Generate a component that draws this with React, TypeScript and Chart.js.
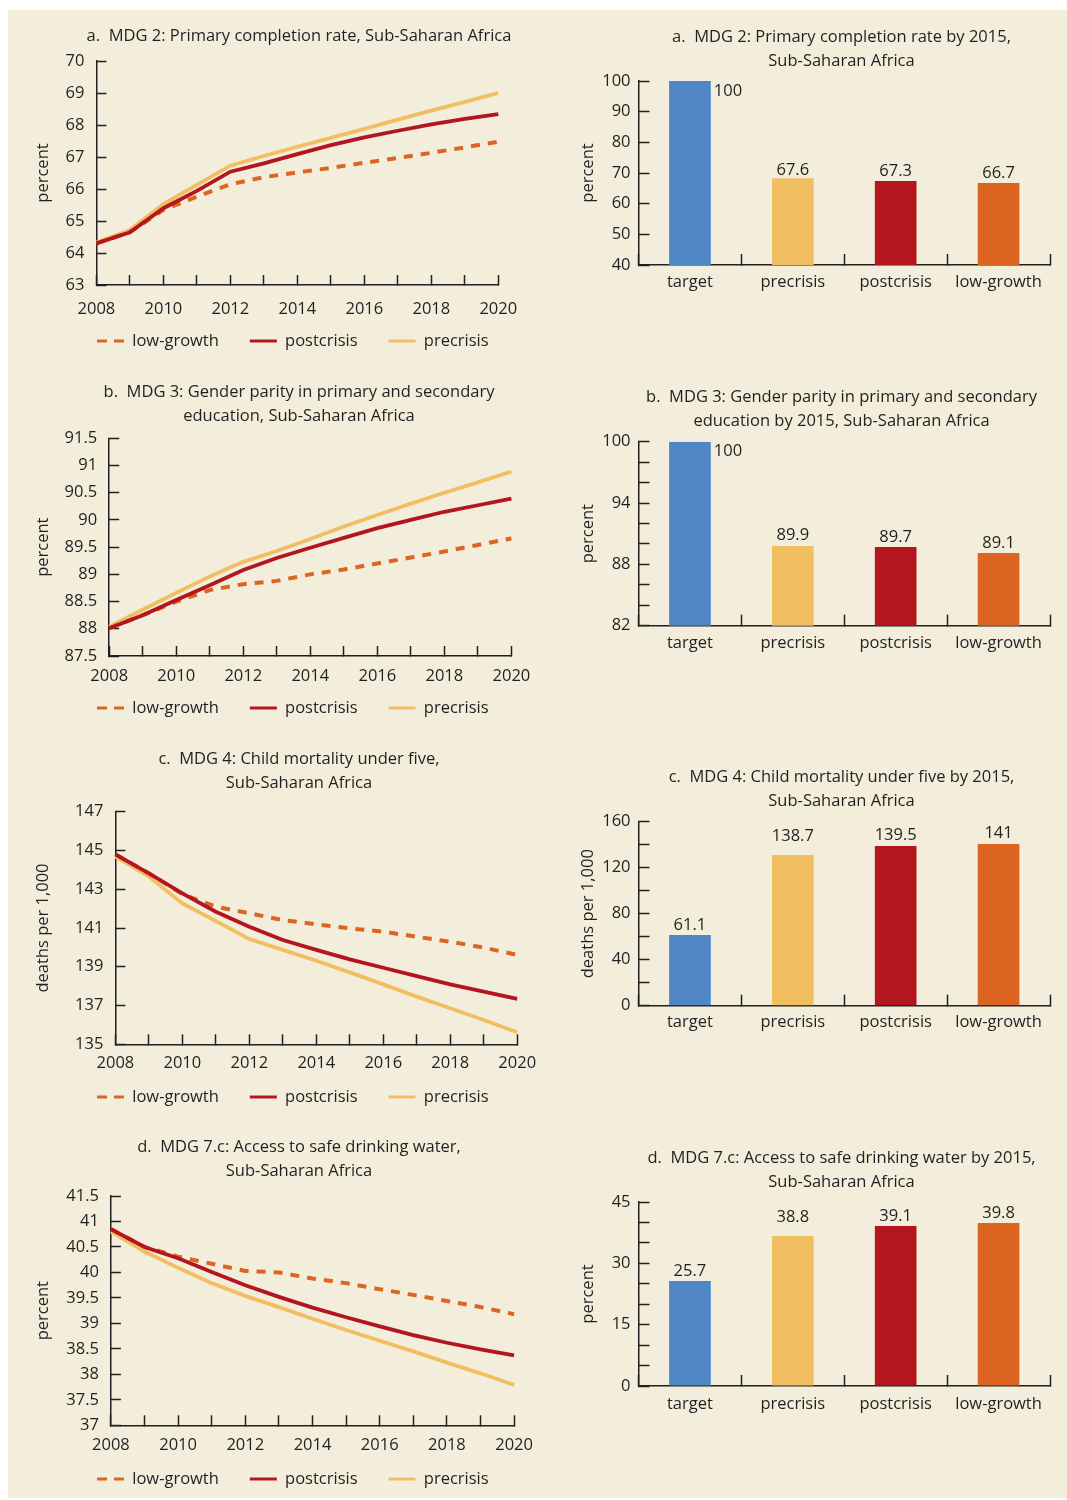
import React, { useEffect, useRef } from 'react';
import { Chart, registerables } from 'chart.js';

Chart.register(...registerables);

// ---------------- data ----------------
const YEARS = ['2008', '2009', '2010', '2011', '2012', '2013', '2014', '2015', '2016', '2017', '2018', '2019', '2020'];
const YEAR_TICK_LABELS = ['2008', '2010', '2012', '2014', '2016', '2018', '2020'];
const SCENARIOS = ['target', 'precrisis', 'postcrisis', 'low-growth'];
const SERIES = ['low-growth', 'postcrisis', 'precrisis'];

// a. MDG 2: primary completion rate (percent)
const MDG2_LOW = [64.3, 64.65, 65.35, 65.76, 66.15, 66.37, 66.52, 66.66, 66.82, 66.97, 67.13, 67.3, 67.48];
const MDG2_POST = [64.3, 64.65, 65.4, 65.94, 66.54, 66.8, 67.09, 67.37, 67.61, 67.82, 68.02, 68.19, 68.34];
const MDG2_PRE = [64.33, 64.72, 65.53, 66.13, 66.73, 67.03, 67.32, 67.6, 67.88, 68.17, 68.45, 68.72, 69.0];
const MDG2_LINE_TICKS = [63, 64, 65, 66, 67, 68, 69, 70];
const MDG2_BAR_HEIGHTS = [100, 68.3, 67.4, 66.7];
const MDG2_BAR_LABELS = [100, 67.6, 67.3, 66.7];
const MDG2_BAR_TICKS = [40, 50, 60, 70, 80, 90, 100];
const MDG2_BAR_TICK_LABELS = [40, 50, 60, 70, 80, 90, 100];

// b. MDG 3: gender parity (percent)
const MDG3_LOW = [88.01, 88.25, 88.5, 88.71, 88.82, 88.88, 89.0, 89.09, 89.2, 89.31, 89.42, 89.54, 89.66];
const MDG3_POST = [88.01, 88.25, 88.53, 88.8, 89.08, 89.3, 89.49, 89.67, 89.85, 90.0, 90.15, 90.27, 90.39];
const MDG3_PRE = [88.04, 88.35, 88.66, 88.96, 89.23, 89.43, 89.65, 89.88, 90.09, 90.3, 90.5, 90.69, 90.89];
const MDG3_LINE_TICKS = [87.5, 88, 88.5, 89, 89.5, 90, 90.5, 91, 91.5];
const MDG3_BAR_HEIGHTS = [100, 89.8, 89.7, 89.1];
const MDG3_BAR_LABELS = [100, 89.9, 89.7, 89.1];
const MDG3_BAR_TICKS = [82, 84, 86, 88, 90, 92, 94, 96, 98, 100];
const MDG3_BAR_TICK_LABELS = [82, 88, 94, 100];

// c. MDG 4: child mortality under five (deaths per 1,000)
const MDG4_LOW = [144.8, 143.82, 142.75, 142.1, 141.76, 141.41, 141.19, 140.98, 140.81, 140.55, 140.29, 139.99, 139.61];
const MDG4_POST = [144.8, 143.82, 142.79, 141.84, 141.07, 140.38, 139.87, 139.38, 138.95, 138.52, 138.09, 137.72, 137.34];
const MDG4_PRE = [144.68, 143.65, 142.27, 141.36, 140.43, 139.87, 139.31, 138.71, 138.09, 137.46, 136.86, 136.25, 135.62];
const MDG4_LINE_TICKS = [135, 137, 139, 141, 143, 145, 147];
const MDG4_BAR_HEIGHTS = [61.4, 131.0, 138.8, 140.6];
const MDG4_BAR_LABELS = [61.1, 138.7, 139.5, 141];
const MDG4_BAR_TICKS = [0, 20, 40, 60, 80, 100, 120, 140, 160];
const MDG4_BAR_TICK_LABELS = [0, 40, 80, 120, 160];

// d. MDG 7.c: access to safe drinking water (percent)
const MDG7_LOW = [40.85, 40.5, 40.31, 40.17, 40.03, 40.0, 39.88, 39.79, 39.67, 39.56, 39.44, 39.32, 39.18];
const MDG7_POST = [40.85, 40.5, 40.28, 40.01, 39.75, 39.52, 39.31, 39.12, 38.94, 38.77, 38.62, 38.49, 38.37];
const MDG7_PRE = [40.8, 40.41, 40.09, 39.79, 39.54, 39.32, 39.09, 38.87, 38.66, 38.45, 38.23, 38.02, 37.79];
const MDG7_LINE_TICKS = [37, 37.5, 38, 38.5, 39, 39.5, 40, 40.5, 41, 41.5];
const MDG7_BAR_HEIGHTS = [25.7, 36.7, 39.1, 39.85];
const MDG7_BAR_LABELS = [25.7, 38.8, 39.1, 39.8];
const MDG7_BAR_TICKS = [0, 5, 10, 15, 20, 25, 30, 35, 40, 45];
const MDG7_BAR_TICK_LABELS = [0, 15, 30, 45];

// ---------------- styles ----------------
const FONT = '"Open Sans", "Noto Sans", sans-serif';
const INK = '#231f20';
const CREAM = '#f2eedb';
const C_LOW = '#dc6521';
const C_POST = '#b3161f';
const C_PRE = '#f1bf62';
const C_TARGET = '#4e86c6';
const FS = 16.5;
const TITLE_LH = 24;
const LEGEND_PAD = 31;
const LINE_TL = -10;
const BAR_TL = -11;
const X_TICK_PAD = 2;

Chart.defaults.font.family = FONT;
Chart.defaults.color = INK;

type LineLayout = { top: number; titleY: number; plotLeft: number; plotRight: number; plotTop: number; plotBottom: number; xLabelY: number; legendY: number };
type BarLayout = { top: number; titleY: number; plotTop: number; plotBottom: number; xLabelY: number };
type Built = { left: number; top: number; width: number; height: number; config: any };

const LINE_A: LineLayout = { top: 10, titleY: 36, plotLeft: 96.4, plotRight: 498.3, plotTop: 61, plotBottom: 285, xLabelY: 309.5, legendY: 341 };
const LINE_B: LineLayout = { top: 370, titleY: 392, plotLeft: 109.2, plotRight: 511.4, plotTop: 438.3, plotBottom: 656, xLabelY: 676.5, legendY: 708 };
const LINE_C: LineLayout = { top: 740, titleY: 759.5, plotLeft: 115.4, plotRight: 517.2, plotTop: 811.7, plotBottom: 1044.3, xLabelY: 1063.5, legendY: 1097 };
const LINE_D: LineLayout = { top: 1120, titleY: 1147, plotLeft: 110.9, plotRight: 514.1, plotTop: 1196, plotBottom: 1425.3, xLabelY: 1445.5, legendY: 1479 };
const BAR_A: BarLayout = { top: 10, titleY: 37, plotTop: 81, plotBottom: 265, xLabelY: 282 };
const BAR_B: BarLayout = { top: 370, titleY: 397, plotTop: 441.7, plotBottom: 625.7, xLabelY: 643 };
const BAR_C: BarLayout = { top: 750, titleY: 777, plotTop: 821.7, plotBottom: 1005.7, xLabelY: 1022.7 };
const BAR_D: BarLayout = { top: 1130, titleY: 1158, plotTop: 1202, plotBottom: 1386, xLabelY: 1404 };

let measureCtx: CanvasRenderingContext2D | null = null;
function widest(labels: string[]): number {
  if (!measureCtx && typeof document !== 'undefined') {
    measureCtx = document.createElement('canvas').getContext('2d');
  }
  if (!measureCtx) return 0;
  measureCtx.font = `${FS}px ${FONT}`;
  return Math.max(...labels.map((l) => measureCtx!.measureText(l).width));
}

const axisGrid = (tl: number) => ({
  display: true,
  drawOnChartArea: false,
  drawTicks: true,
  tickLength: tl,
  tickWidth: 1.5,
  tickColor: INK,
  color: INK,
});
const axisBorder = { display: true, color: INK, width: 1.5 };

function buildLine(L: LineLayout, title: string[], yTitle: string, ticks: number[], low: number[], post: number[], pre: number[]): Built {
  const canvasLeft = 8;
  const width = 532;
  const scaleLeft = 66;
  const boxRight = 532;
  const padL = scaleLeft - canvasLeft;
  const padR = canvasLeft + width - boxRight;
  const tTop = L.titleY - L.top - TITLE_LH / 2;
  const tBottom = L.plotTop - L.top - tTop - title.length * TITLE_LH;
  const legendTop = L.legendY - LEGEND_PAD - FS / 2;
  const legendBottom = legendTop + FS + LEGEND_PAD + 10;
  const height = Math.ceil(legendBottom - L.top);
  const padB = height - (legendBottom - L.top);
  const xAxisH = legendTop - L.plotBottom;
  const xPad = -((L.xLabelY - L.plotBottom) + (FS * 1.2) / 2);
  const yW = L.plotLeft - scaleLeft;
  const yRW = boxRight - L.plotRight;
  const yTitlePad = 43 - scaleLeft - (FS * 1.2) / 2;
  const yPad = -(12 + widest(ticks.map((t) => String(t))));

  const config = {
    type: 'line',
    data: {
      labels: YEARS,
      datasets: [
        { label: SERIES[0], data: low, borderColor: C_LOW, backgroundColor: C_LOW, borderWidth: 4, borderDash: [9, 8], pointRadius: 0, tension: 0, order: 1 },
        { label: SERIES[1], data: post, borderColor: C_POST, backgroundColor: C_POST, borderWidth: 3.8, pointRadius: 0, tension: 0, order: 0 },
        { label: SERIES[2], data: pre, borderColor: C_PRE, backgroundColor: C_PRE, borderWidth: 3.8, pointRadius: 0, tension: 0, order: 2 },
      ],
    },
    options: {
      responsive: false,
      animation: false,
      events: [],
      layout: { padding: { left: padL, right: padR, top: 0, bottom: padB } },
      plugins: {
        tooltip: { enabled: false },
        title: {
          display: true,
          text: title,
          color: INK,
          font: { family: FONT, size: FS, weight: 'normal', lineHeight: `${TITLE_LH}px` },
          padding: { top: tTop, bottom: tBottom },
        },
        legend: {
          display: true,
          position: 'bottom',
          align: 'start',
          labels: {
            usePointStyle: true,
            pointStyle: 'line',
            pointStyleWidth: 27,
            padding: LEGEND_PAD,
            color: INK,
            font: { family: FONT, size: FS },
            sort: (a: any, b: any) => a.datasetIndex - b.datasetIndex,
            generateLabels: (chart: any) => {
              const items = Chart.defaults.plugins.legend.labels.generateLabels(chart);
              return items.map((it: any) => ({
                ...it,
                lineWidth: 3.2,
                lineDash: it.datasetIndex === 0 ? [10, 7] : [],
                pointStyle: 'line',
              }));
            },
          },
        },
      },
      scales: {
        x: {
          type: 'category',
          offset: false,
          grid: { ...axisGrid(LINE_TL), offset: false },
          border: axisBorder,
          ticks: {
            autoSkip: false,
            maxRotation: 0,
            minRotation: 0,
            mirror: true,
            padding: xPad,
            color: INK,
            font: { family: FONT, size: FS },
            callback: (_v: any, i: number) => (YEAR_TICK_LABELS.includes(YEARS[i]) ? YEARS[i] : ''),
          },
          afterFit: (s: any) => {
            s.height = xAxisH;
          },
        },
        y: {
          type: 'linear',
          position: 'left',
          min: ticks[0],
          max: ticks[ticks.length - 1],
          grid: axisGrid(LINE_TL),
          border: axisBorder,
          ticks: {
            stepSize: ticks[1] - ticks[0],
            autoSkip: false,
            mirror: true,
            crossAlign: 'far',
            padding: yPad,
            color: INK,
            font: { family: FONT, size: FS },
            callback: (v: number) => (ticks.some((t) => Math.abs(t - v) < 1e-6) ? String(v) : ''),
          },
          title: {
            display: true,
            text: yTitle,
            color: INK,
            font: { family: FONT, size: FS },
            padding: { top: yTitlePad, bottom: 0 },
          },
          afterFit: (s: any) => {
            s.width = yW;
          },
        },
        yR: {
          type: 'linear',
          position: 'right',
          display: true,
          grid: { display: false, drawTicks: false },
          border: { display: false },
          ticks: { display: false },
          afterFit: (s: any) => {
            s.width = yRW;
          },
        },
      },
    },
  };
  return { left: canvasLeft, top: L.top, width, height, config };
}

const barLabelPlugin = {
  id: 'barLabels',
  afterDatasetsDraw(chart: any, _args: any, opts: any) {
    const { ctx } = chart;
    const meta = chart.getDatasetMeta(0);
    const yScale = chart.scales.y;
    const values: number[] = opts.values || [];
    ctx.save();
    ctx.font = `${FS}px ${FONT}`;
    ctx.fillStyle = INK;
    ctx.textBaseline = 'middle';
    meta.data.forEach((bar: any, i: number) => {
      const v = values[i];
      if (v === undefined) return;
      const py = yScale.getPixelForValue(v);
      if (v >= yScale.max) {
        ctx.textAlign = 'left';
        ctx.fillText(String(v), bar.x + bar.width / 2 + 3, py + 10);
      } else {
        ctx.textAlign = 'center';
        ctx.fillText(String(v), bar.x, py - 10);
      }
    });
    ctx.restore();
  },
};

function buildBar(L: BarLayout, title: string[], yTitle: string, ticks: number[], tickLabels: number[], heights: number[], labels: number[]): Built {
  const canvasLeft = 540;
  const width = 522;
  const scaleLeft = 623;
  const boxRight = 1060;
  const plotLeft = 638.5;
  const plotRight = 1050;
  const padL = scaleLeft - canvasLeft;
  const padR = canvasLeft + width - boxRight;
  const tTop = L.titleY - L.top - TITLE_LH / 2;
  const tBottom = L.plotTop - L.top - tTop - title.length * TITLE_LH;
  const xAxisH = 40;
  const bottomEdge = L.plotBottom + xAxisH;
  const height = Math.ceil(bottomEdge - L.top);
  const padB = height - (bottomEdge - L.top);
  const xLH = 2 * (L.xLabelY - L.plotBottom - BAR_TL - X_TICK_PAD);
  const yW = plotLeft - scaleLeft;
  const yRW = boxRight - plotRight;
  const yTitlePad = 588 - scaleLeft - (FS * 1.2) / 2;
  const yPad = -(8 + widest(tickLabels.map((t) => String(t))));

  const config = {
    type: 'bar',
    data: {
      labels: SCENARIOS,
      datasets: [
        {
          label: 'by 2015',
          data: heights,
          backgroundColor: [C_TARGET, C_PRE, C_POST, C_LOW],
          borderWidth: 0,
          barPercentage: 0.405,
          categoryPercentage: 1,
        },
      ],
    },
    options: {
      responsive: false,
      animation: false,
      events: [],
      layout: { padding: { left: padL, right: padR, top: 0, bottom: padB } },
      plugins: {
        tooltip: { enabled: false },
        legend: { display: false },
        barLabels: { values: labels },
        title: {
          display: true,
          text: title,
          color: INK,
          font: { family: FONT, size: FS, weight: 'normal', lineHeight: `${TITLE_LH}px` },
          padding: { top: tTop, bottom: tBottom },
        },
      },
      scales: {
        x: {
          type: 'category',
          offset: true,
          grid: { ...axisGrid(BAR_TL), offset: true },
          border: axisBorder,
          ticks: {
            autoSkip: false,
            maxRotation: 0,
            minRotation: 0,
            padding: X_TICK_PAD,
            color: INK,
            font: { family: FONT, size: FS, lineHeight: `${xLH}px` },
          },
          afterFit: (s: any) => {
            s.height = xAxisH;
          },
        },
        y: {
          type: 'linear',
          position: 'left',
          min: ticks[0],
          max: ticks[ticks.length - 1],
          grid: axisGrid(BAR_TL),
          border: axisBorder,
          ticks: {
            stepSize: ticks[1] - ticks[0],
            autoSkip: false,
            mirror: true,
            crossAlign: 'far',
            padding: yPad,
            color: INK,
            font: { family: FONT, size: FS },
            callback: (v: number) => (tickLabels.some((t) => Math.abs(t - v) < 1e-6) ? String(v) : ''),
          },
          title: {
            display: true,
            text: yTitle,
            color: INK,
            font: { family: FONT, size: FS },
            padding: { top: yTitlePad, bottom: 0 },
          },
          afterFit: (s: any) => {
            s.width = yW;
          },
        },
        yR: {
          type: 'linear',
          position: 'right',
          display: true,
          grid: { display: false, drawTicks: false },
          border: { display: false },
          ticks: { display: false },
          afterFit: (s: any) => {
            s.width = yRW;
          },
        },
      },
    },
    plugins: [barLabelPlugin],
  };
  return { left: canvasLeft, top: L.top, width, height, config };
}

const PANELS: Built[] = [
  buildLine(LINE_A, ['a.  MDG 2: Primary completion rate, Sub-Saharan Africa'], 'percent', MDG2_LINE_TICKS, MDG2_LOW, MDG2_POST, MDG2_PRE),
  buildLine(LINE_B, ['b.  MDG 3: Gender parity in primary and secondary', 'education, Sub-Saharan Africa'], 'percent', MDG3_LINE_TICKS, MDG3_LOW, MDG3_POST, MDG3_PRE),
  buildLine(LINE_C, ['c.  MDG 4: Child mortality under five,', 'Sub-Saharan Africa'], 'deaths per 1,000', MDG4_LINE_TICKS, MDG4_LOW, MDG4_POST, MDG4_PRE),
  buildLine(LINE_D, ['d.  MDG 7.c: Access to safe drinking water,', 'Sub-Saharan Africa'], 'percent', MDG7_LINE_TICKS, MDG7_LOW, MDG7_POST, MDG7_PRE),
  buildBar(BAR_A, ['a.  MDG 2: Primary completion rate by 2015,', 'Sub-Saharan Africa'], 'percent', MDG2_BAR_TICKS, MDG2_BAR_TICK_LABELS, MDG2_BAR_HEIGHTS, MDG2_BAR_LABELS),
  buildBar(BAR_B, ['b.  MDG 3: Gender parity in primary and secondary', 'education by 2015, Sub-Saharan Africa'], 'percent', MDG3_BAR_TICKS, MDG3_BAR_TICK_LABELS, MDG3_BAR_HEIGHTS, MDG3_BAR_LABELS),
  buildBar(BAR_C, ['c.  MDG 4: Child mortality under five by 2015,', 'Sub-Saharan Africa'], 'deaths per 1,000', MDG4_BAR_TICKS, MDG4_BAR_TICK_LABELS, MDG4_BAR_HEIGHTS, MDG4_BAR_LABELS),
  buildBar(BAR_D, ['d.  MDG 7.c: Access to safe drinking water by 2015,', 'Sub-Saharan Africa'], 'percent', MDG7_BAR_TICKS, MDG7_BAR_TICK_LABELS, MDG7_BAR_HEIGHTS, MDG7_BAR_LABELS),
];

function ChartCanvas({ built }: { built: Built }) {
  const ref = useRef<HTMLCanvasElement | null>(null);
  useEffect(() => {
    if (!ref.current) return undefined;
    const chart = new Chart(ref.current, built.config);
    return () => chart.destroy();
  }, [built]);
  return (
    <canvas
      ref={ref}
      width={built.width}
      height={built.height}
      style={{ position: 'absolute', left: built.left, top: built.top, width: built.width, height: built.height }}
    />
  );
}

export default function App() {
  return (
    <div style={{ position: 'absolute', left: 0, top: 0, width: 1067, height: 1500, background: '#ffffff', overflow: 'hidden' }}>
      <div style={{ position: 'absolute', left: 8, top: 10, right: 0, bottom: 2, background: CREAM }} />
      {PANELS.map((p, i) => (
        <ChartCanvas key={i} built={p} />
      ))}
    </div>
  );
}
